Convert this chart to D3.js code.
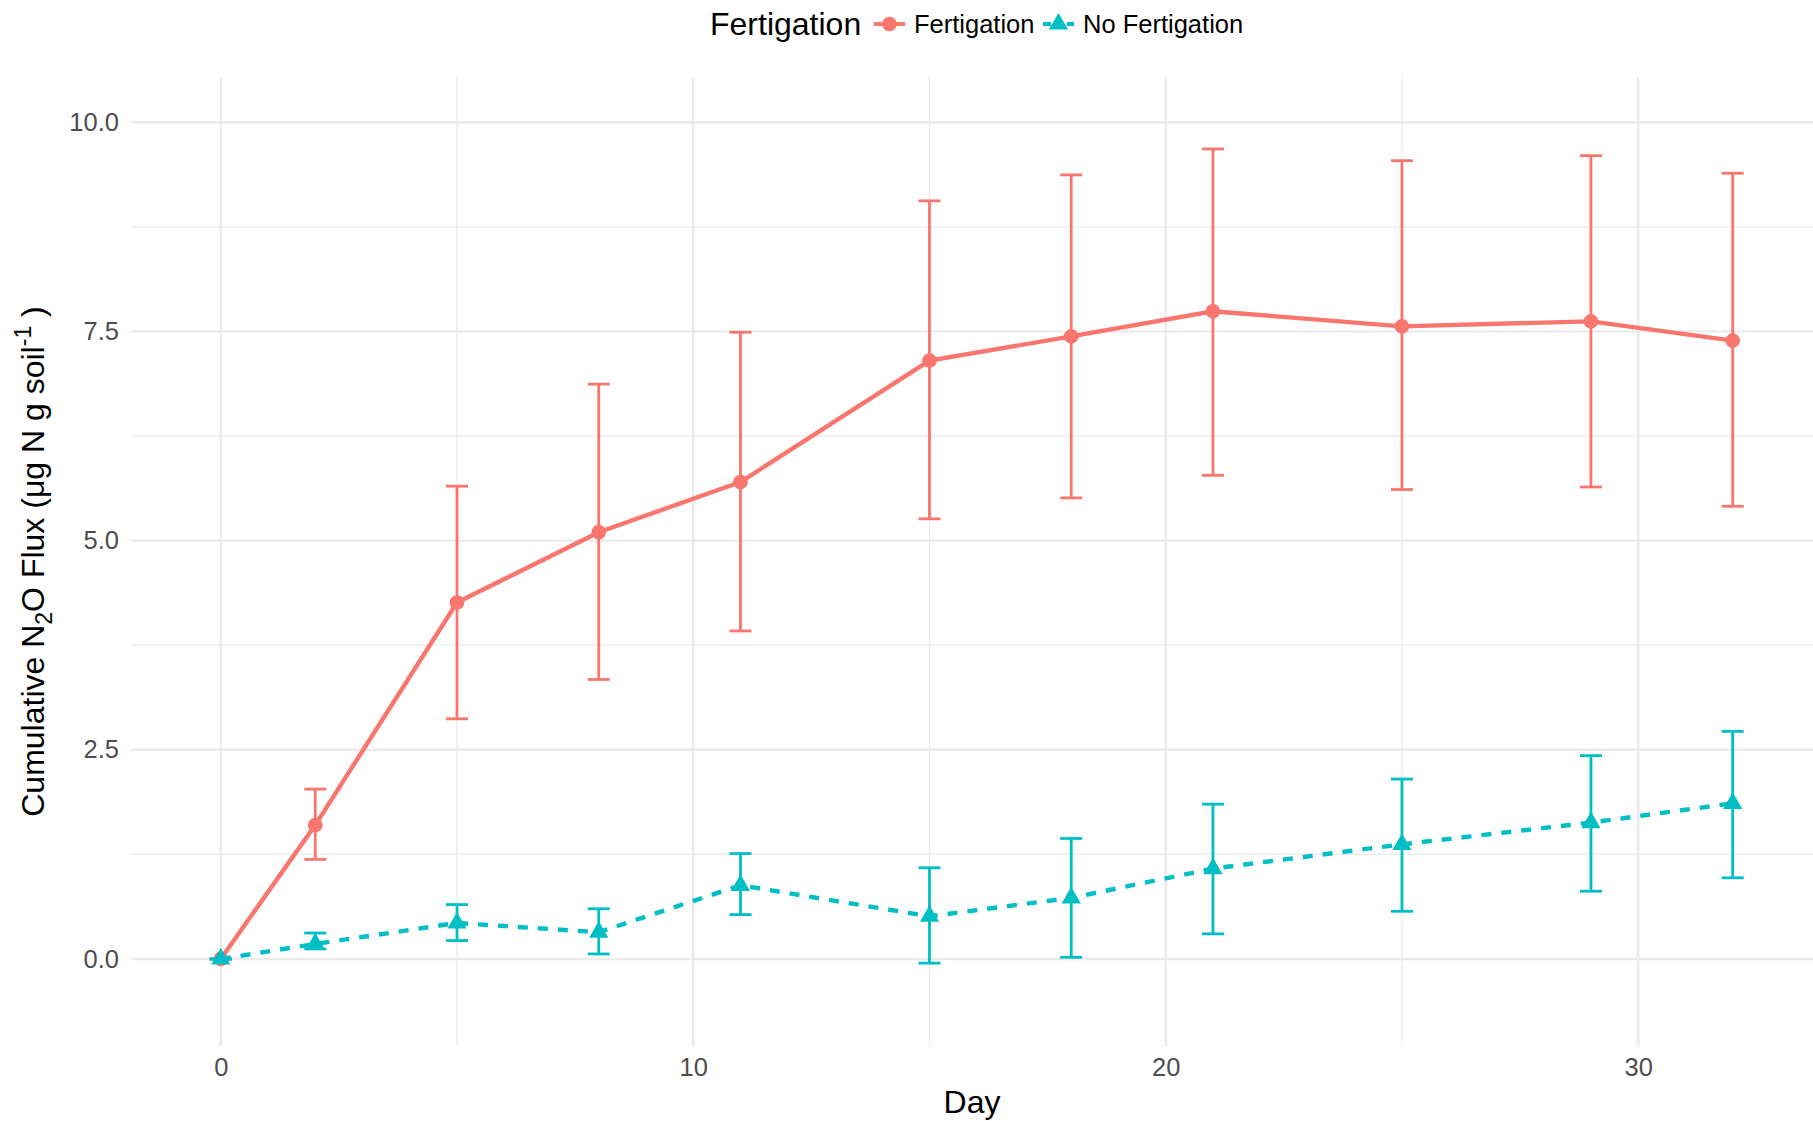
<!DOCTYPE html>
<html>
<head>
<meta charset="utf-8">
<script src="https://cdn.jsdelivr.net/npm/d3@7"></script>
<style>
  html, body { margin: 0; padding: 0; background: #fff; }
  svg { display: block; font-family: "Liberation Sans", Arial, sans-serif; }
</style>
</head>
<body>
<svg id="chart" width="1813" height="1121"></svg>
<script>
// Sampling days
const days = [0, 2, 5, 8, 11, 15, 18, 21, 25, 29, 32];

// Fertigation: mean cumulative N2O flux and error-bar limits
const fertMean  = [0, 1.60, 4.26, 5.10, 5.70, 7.15, 7.44, 7.74, 7.56, 7.62, 7.39];
const fertLower = [0, 1.19, 2.87, 3.34, 3.92, 5.26, 5.51, 5.78, 5.61, 5.64, 5.41];
const fertUpper = [0, 2.03, 5.65, 6.87, 7.49, 9.06, 9.37, 9.68, 9.54, 9.60, 9.39];

// No Fertigation
const noFertMean  = [0, 0.18, 0.43, 0.32, 0.88, 0.51, 0.73, 1.08, 1.37, 1.63, 1.86];
const noFertLower = [0, 0.12, 0.22, 0.06, 0.53, -0.05, 0.02, 0.30, 0.57, 0.81, 0.97];
const noFertUpper = [0, 0.31, 0.65, 0.60, 1.26, 1.09, 1.44, 1.85, 2.15, 2.43, 2.72];

// Axis ticks
const xTicks = [0, 10, 20, 30];
const xMinor = [5, 15, 25];
const yTicks = [0, 2.5, 5, 7.5, 10];
const yMinor = [1.25, 3.75, 6.25, 8.75];

const seriesNames = ["Fertigation", "No Fertigation"];
const colors = { "Fertigation": "#F8766D", "No Fertigation": "#00BFC4" };

const series = [
  { name: "Fertigation", mean: fertMean, lower: fertLower, upper: fertUpper, dash: null, shape: d3.symbolCircle, size: 170 },
  { name: "No Fertigation", mean: noFertMean, lower: noFertLower, upper: noFertUpper, dash: "10,10", shape: d3.symbolTriangle, size: 160 }
];

const svg = d3.select("#chart");
const panel = { left: 131, right: 1813, top: 77, bottom: 1046 };

const x = d3.scaleLinear().domain([-1.9, 33.7]).range([panel.left, panel.right]);
const y = d3.scaleLinear().domain([-1.04, 10.54]).range([panel.bottom, panel.top]);

// Grid
const grid = svg.append("g");
grid.selectAll(".ym").data(yMinor).join("line")
  .attr("x1", panel.left).attr("x2", panel.right)
  .attr("y1", d => y(d)).attr("y2", d => y(d))
  .attr("stroke", "#EBEBEB").attr("stroke-width", 1.3);
grid.selectAll(".xm").data(xMinor).join("line")
  .attr("y1", panel.top).attr("y2", panel.bottom)
  .attr("x1", d => x(d)).attr("x2", d => x(d))
  .attr("stroke", "#EBEBEB").attr("stroke-width", 1.3);
grid.selectAll(".yM").data(yTicks).join("line")
  .attr("x1", panel.left).attr("x2", panel.right)
  .attr("y1", d => y(d)).attr("y2", d => y(d))
  .attr("stroke", "#EBEBEB").attr("stroke-width", 2.4);
grid.selectAll(".xM").data(xTicks).join("line")
  .attr("y1", panel.top).attr("y2", panel.bottom)
  .attr("x1", d => x(d)).attr("x2", d => x(d))
  .attr("stroke", "#EBEBEB").attr("stroke-width", 2.4);

// Axes (labels only, no lines or ticks)
const xAxis = svg.append("g")
  .attr("transform", `translate(0,${panel.bottom})`)
  .call(d3.axisBottom(x).tickValues(xTicks).tickFormat(d3.format("d")).tickSize(0).tickPadding(12));
const yAxis = svg.append("g")
  .attr("transform", `translate(${panel.left},0)`)
  .call(d3.axisLeft(y).tickValues(yTicks).tickFormat(d3.format(".1f")).tickSize(0).tickPadding(12));
[xAxis, yAxis].forEach(a => {
  a.select(".domain").remove();
  a.selectAll("text")
    .attr("font-family", "Liberation Sans, Arial, sans-serif")
    .attr("font-size", 25.5).attr("fill", "#4D4D4D");
});

// Series
const line = d3.line().x(d => x(d.day)).y(d => y(d.v));
const capHalf = 11;
series.forEach(s => {
  const pts = days.map((d, i) => ({ day: d, v: s.mean[i], lo: s.lower[i], hi: s.upper[i] }));
  const g = svg.append("g");
  const col = colors[s.name];

  g.append("path").datum(pts)
    .attr("d", line).attr("fill", "none")
    .attr("stroke", col).attr("stroke-width", 4.4)
    .attr("stroke-dasharray", s.dash);

  const eb = g.selectAll(".eb").data(pts).join("g");
  eb.append("line")
    .attr("x1", d => x(d.day)).attr("x2", d => x(d.day))
    .attr("y1", d => y(d.lo)).attr("y2", d => y(d.hi))
    .attr("stroke", col).attr("stroke-width", 2.8);
  eb.append("line")
    .attr("x1", d => x(d.day) - capHalf).attr("x2", d => x(d.day) + capHalf)
    .attr("y1", d => y(d.hi)).attr("y2", d => y(d.hi))
    .attr("stroke", col).attr("stroke-width", 2.8);
  eb.append("line")
    .attr("x1", d => x(d.day) - capHalf).attr("x2", d => x(d.day) + capHalf)
    .attr("y1", d => y(d.lo)).attr("y2", d => y(d.lo))
    .attr("stroke", col).attr("stroke-width", 2.8);

  g.selectAll(".pt").data(pts).join("path")
    .attr("d", d3.symbol().type(s.shape).size(s.size))
    .attr("transform", d => `translate(${x(d.day)},${y(d.v)})`)
    .attr("fill", col);
});

// Axis titles
svg.append("text")
  .attr("x", (panel.left + panel.right) / 2).attr("y", 1113)
  .attr("text-anchor", "middle").attr("font-size", 32).attr("fill", "#000")
  .text("Day");

const yt = svg.append("text")
  .attr("transform", `translate(44,${(panel.top + panel.bottom) / 2}) rotate(-90)`)
  .attr("text-anchor", "middle").attr("font-size", 32).attr("fill", "#000");
yt.append("tspan").text("Cumulative N");
yt.append("tspan").text("2").attr("font-size", 23).attr("dy", 8);
yt.append("tspan").text("O Flux (μg N g soil").attr("dy", -8);
yt.append("tspan").text("-1").attr("font-size", 23).attr("dy", -13);
yt.append("tspan").text(" )").attr("dy", 13);

// Legend
const legend = svg.append("g").attr("transform", "translate(0,24)");
legend.append("text").attr("x", 710).attr("y", 11)
  .attr("font-size", 32).attr("fill", "#000").text("Fertigation");
const keyX = { "Fertigation": 874, "No Fertigation": 1043 };
series.forEach(s => {
  const col = colors[s.name];
  const kx = keyX[s.name];
  legend.append("line").attr("x1", kx).attr("x2", kx + 31).attr("y1", 0).attr("y2", 0)
    .attr("stroke", col).attr("stroke-width", 4).attr("stroke-dasharray", s.dash ? "8,4" : null);
  legend.append("path").attr("d", d3.symbol().type(s.shape).size(s.size))
    .attr("transform", `translate(${kx + 15.5},0)`).attr("fill", col);
  legend.append("text").attr("x", kx + 40).attr("y", 9)
    .attr("font-size", 25.5).attr("fill", "#000").text(s.name);
});
</script>
</body>
</html>
